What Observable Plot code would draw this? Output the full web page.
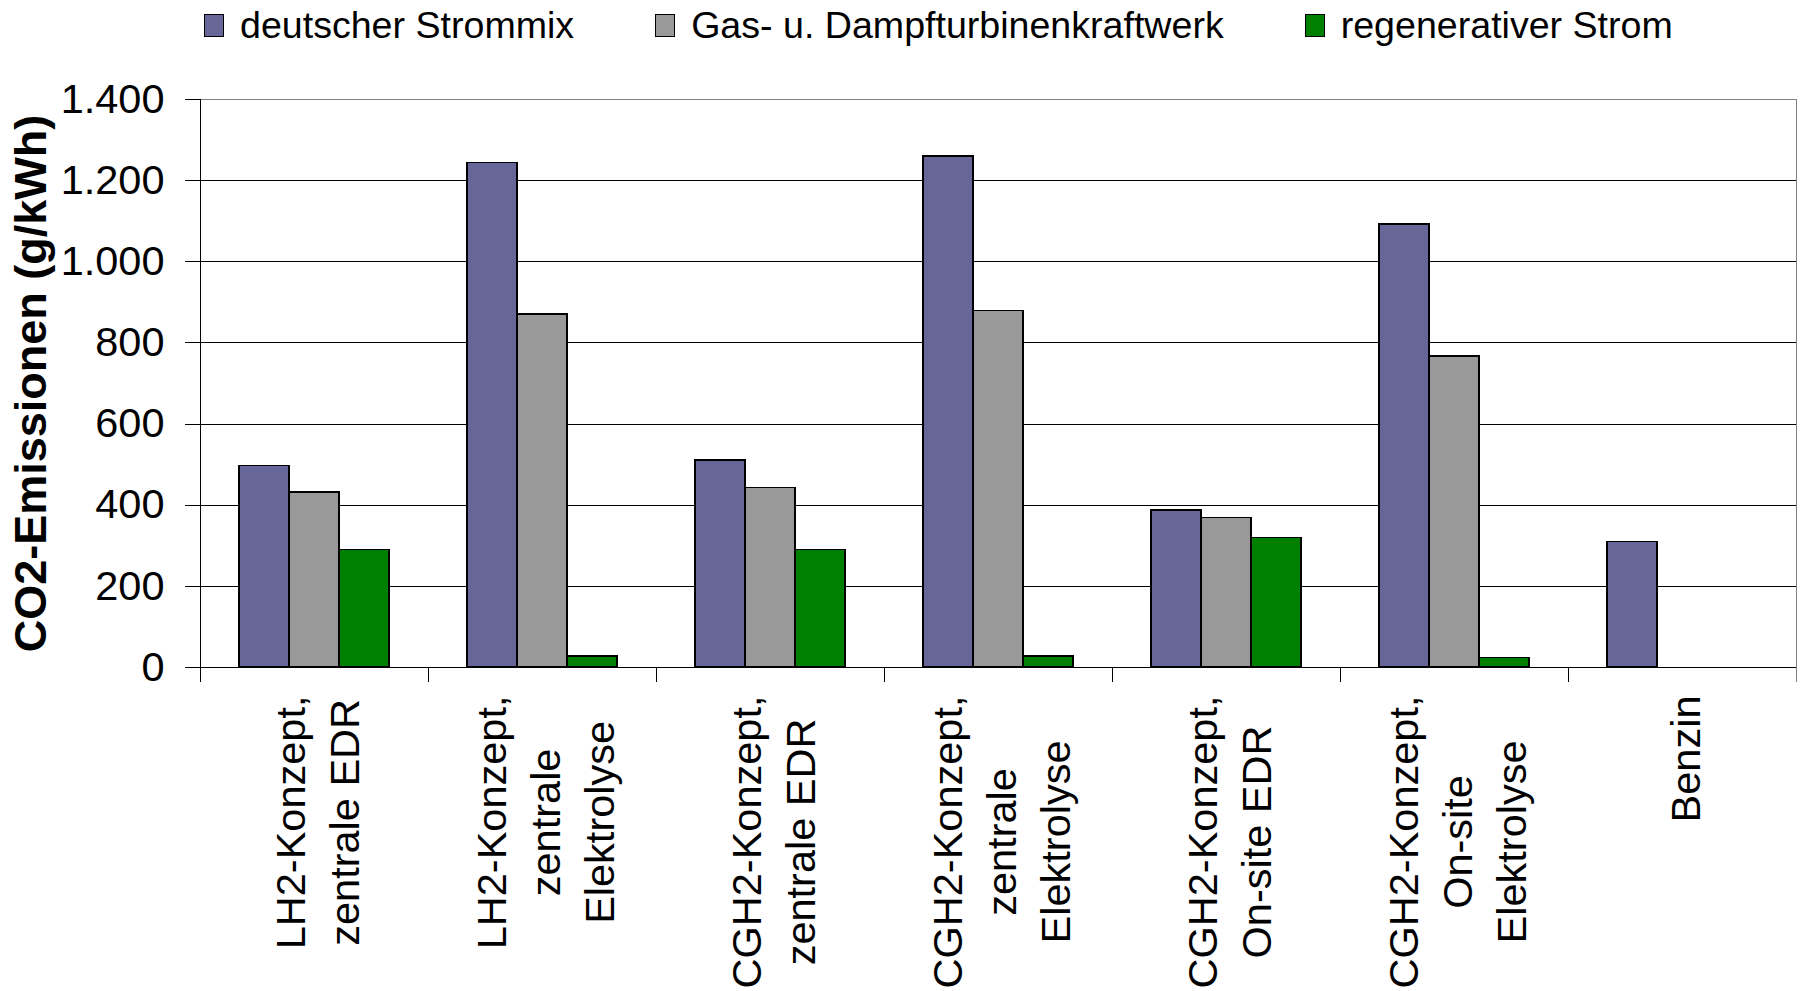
<!DOCTYPE html>
<html>
<head>
<meta charset="utf-8">
<script src="https://cdn.jsdelivr.net/npm/d3@7"></script>
<script src="https://cdn.jsdelivr.net/npm/@observablehq/plot@0.6"></script>
<style>
  body { margin: 0; background: #fff; font-family: 'Liberation Sans', Arial, sans-serif; }
  #legend { display: flex; align-items: center; height: 50px; width: 1804px; padding-left: 204px; box-sizing: border-box; gap: 81px; }
  .item { display: flex; align-items: center; gap: 16px; font-size: 37.6px; line-height: 50px; white-space: nowrap; color: #000; }
  .sw { width: 20px; height: 23px; box-sizing: border-box; border: 1.5px solid #000; }
</style>
</head>
<body>
<div id="legend"></div>
<div id="chart"></div>
<script>
// Hydrogen supply chains (multi-line axis labels) and gasoline reference
const categories = [
  "LH2-Konzept,\nzentrale EDR",
  "LH2-Konzept,\nzentrale\nElektrolyse",
  "CGH2-Konzept,\nzentrale EDR",
  "CGH2-Konzept,\nzentrale\nElektrolyse",
  "CGH2-Konzept,\nOn-site EDR",
  "CGH2-Konzept,\nOn-site\nElektrolyse",
  "Benzin"
];

// Electricity sources
const series = ["deutscher Strommix", "Gas- u. Dampfturbinenkraftwerk", "regenerativer Strom"];
const seriesColors = ["#666699", "#999999", "#008000"];

// CO2 emissions in g/kWh, one value per category
const strommix = [496, 1244, 510, 1260, 387, 1092, 309];
const gudKraftwerk = [431, 870, 442, 879, 368, 767, null];
const regenerativ = [289, 27, 289, 27, 319, 24, null];

const yTicks = [0, 200, 400, 600, 800, 1000, 1200, 1400];

const rows = [];
categories.forEach((c, i) => {
  [strommix, gudKraftwerk, regenerativ].forEach((arr, j) => {
    if (arr[i] != null) rows.push({category: c, series: series[j], value: arr[i]});
  });
});

// Legend
const legend = d3.select("#legend");
series.forEach((s, j) => {
  const item = legend.append("div").attr("class", "item");
  item.append("div").attr("class", "sw").style("background", seriesColors[j]);
  item.append("span").text(s);
});

const FONT = "'Liberation Sans', Arial, sans-serif";
const labelSize = 41.5;
const ctx = document.createElement("canvas").getContext("2d");
ctx.font = `${labelSize}px ${FONT}`;
const blockLength = (label) => d3.max(label.split("\n"), (s) => ctx.measureText(s).width);

const plotHeight = 568;

const chart = Plot.plot({
  width: 1804,
  height: 941,
  marginTop: 49,
  marginBottom: 324,
  marginLeft: 200,
  marginRight: 8,
  style: {fontFamily: FONT, fontSize: `${labelSize}px`, color: "#000", background: "#fff", shapeRendering: "crispEdges"},
  fx: {domain: categories, padding: 0, axis: null},
  x: {domain: series, paddingInner: 0, paddingOuter: 0.75, axis: null},
  y: {domain: [0, 1400], axis: null},
  color: {domain: series, range: seriesColors},
  marks: [
    Plot.gridY(yTicks.filter((v) => v > 0 && v < 1400), {stroke: "#000", strokeOpacity: 1}),
    Plot.gridY([1400], {stroke: "#808080", strokeOpacity: 1}),
    Plot.barY(rows, {fx: "category", x: "series", y: "value", fill: "series", stroke: "#000", strokeWidth: 1.4}),
    Plot.ruleY([0], {stroke: "#000"}),
    // category separator ticks below the axis
    Plot.frame({anchor: "left", insetTop: plotHeight, insetBottom: -14, stroke: "#000"}),
    Plot.frame({anchor: "left", fx: [categories[0]], insetBottom: -14, stroke: "#000"}),
    Plot.frame({anchor: "right", fx: [categories[categories.length - 1]], insetBottom: -14, stroke: "#808080"}),
    Plot.axisY({ticks: yTicks, tickSize: 15, tickPadding: 21, tickFormat: (v) => v.toLocaleString("de-DE"), label: null, fontSize: labelSize}),
    Plot.axisY({ticks: [], label: "CO2-Emissionen (g/kWh)", labelAnchor: "center", labelOffset: 186, labelArrow: "none", fontWeight: "bold", fontSize: 45}),
    ...categories.map((c) => Plot.text([c], {
      fx: (d) => d,
      text: (d) => d,
      frameAnchor: "bottom",
      rotate: -90,
      textAnchor: "middle",
      lineAnchor: "middle",
      lineHeight: 1.3,
      dy: 28 + blockLength(c) / 2,
      fontSize: labelSize
    }))
  ]
});

document.getElementById("chart").append(chart);
</script>
</body>
</html>
